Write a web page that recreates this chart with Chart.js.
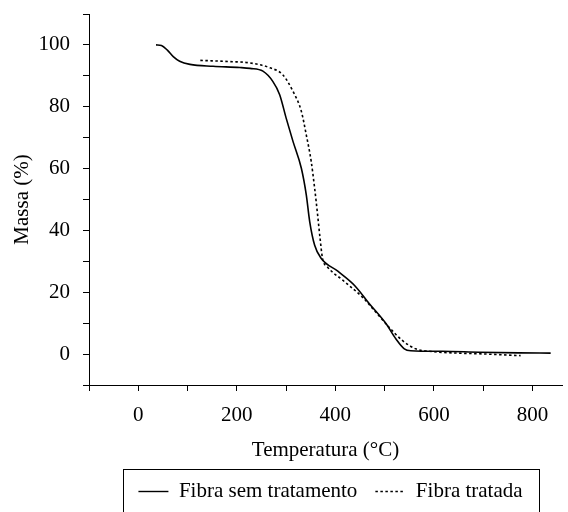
<!DOCTYPE html>
<html>
<head>
<meta charset="utf-8">
<script src="https://cdn.jsdelivr.net/npm/chart.js@4"></script>
<style>
  html, body { margin: 0; padding: 0; background: #fff; }
  #wrap { width: 568px; height: 512px; }
</style>
</head>
<body>
<div id="wrap"><canvas id="tgaChart"></canvas></div>
<script>
// curva TGA - fibra sem tratamento (temperatura °C / massa %)
const tempSemTratamento = [36, 47, 59, 71, 84, 105, 152, 206, 227, 253, 273, 287, 300, 314, 331, 341, 348, 358, 371, 405, 439, 469, 503, 523, 540, 553, 617, 692, 772, 837];
const massaSemTratamento = [100, 99.8, 98.3, 96.2, 94.7, 93.7, 93.1, 92.7, 92.4, 91.5, 88.2, 83.9, 76.4, 68.8, 60.1, 51.5, 42.8, 35.2, 31, 26.8, 22.2, 16.3, 9.8, 4.9, 1.7, 1.1, 0.9, 0.6, 0.4, 0.3];

// curva TGA - fibra tratada
const tempTratada = [126, 186, 226, 267, 293, 314, 331, 341, 351, 358, 364, 369, 374, 384, 415, 455, 476, 509, 536, 563, 597, 651, 692, 776];
const massaTratada = [95, 94.6, 94.2, 92.6, 90.4, 85, 78.5, 70.9, 62.3, 53.6, 45, 37.4, 30.9, 28.2, 23.9, 18.4, 14.7, 8.7, 4.4, 1.7, 0.8, 0.3, 0.1, -0.5];

const nomesSeries = ['Fibra sem tratamento', 'Fibra tratada'];

const toPoints = (xs, ys) => xs.map((x, i) => ({ x, y: ys[i] }));

Chart.defaults.font.family = '"Liberation Serif", "Times New Roman", serif';
Chart.defaults.font.size = 21;
Chart.defaults.color = '#000';

// desloca um pouco a legenda e desenha a moldura em volta dela
const legendFrame = {
    id: 'legendFrame',
    afterLayout(chart) {
        const lg = chart.legend;
        if (!lg) return;
        lg.left += 5;
        lg.right += 5;
    },
    afterDraw(chart) {
        const lg = chart.legend;
        if (!lg || !lg.legendHitBoxes.length) return;
        const boxes = lg.legendHitBoxes;
        const left = Math.min(...boxes.map(b => b.left)) - 15;
        const right = Math.max(...boxes.map(b => b.left + b.width)) + 17;
        const cy = lg.top + lg.options.labels.padding + boxes[0].height / 2;
        const ctx = chart.ctx;
        ctx.save();
        ctx.strokeStyle = '#000';
        ctx.lineWidth = 1;
        ctx.strokeRect(Math.round(left) + 0.5, Math.round(cy - 23) + 0.5, Math.round(right - left), chart.height);
        ctx.restore();
    }
};

new Chart(document.getElementById('tgaChart'), {
    type: 'line',
    data: {
        datasets: [{
            label: nomesSeries[0],
            data: toPoints(tempSemTratamento, massaSemTratamento),
            borderColor: '#000',
            borderWidth: 1.6,
            pointRadius: 0,
            cubicInterpolationMode: 'monotone',
            fill: false
        }, {
            label: nomesSeries[1],
            data: toPoints(tempTratada, massaTratada),
            borderColor: '#000',
            borderWidth: 1.6,
            borderDash: [2.5, 2.5],
            pointRadius: 0,
            cubicInterpolationMode: 'monotone',
            fill: false
        }]
    },
    options: {
        responsive: true,
        maintainAspectRatio: false,
        animation: false,
        layout: { padding: { top: 14, right: 6, left: 0, bottom: 0 } },
        scales: {
            x: {
                type: 'linear',
                min: -100,
                max: 860,
                afterFit: (s) => { s.height = 78; s.paddingLeft = 0; s.paddingRight = 0; },
                border: { display: true, color: '#000', width: 1 },
                grid: { drawOnChartArea: false, drawTicks: true, tickLength: 6, color: '#000' },
                ticks: {
                    stepSize: 100,
                    includeBounds: false,
                    padding: 12,
                    maxRotation: 0,
                    autoSkip: false,
                    callback: (v) => (v % 200 === 0 ? v : '')
                },
                title: { display: true, text: 'Temperatura (°C)', padding: { top: 0, bottom: 0 } }
            },
            y: {
                min: -10,
                max: 110,
                afterFit: (s) => { s.width = 89; s.paddingTop = 0; s.paddingBottom = 0; },
                border: { display: true, color: '#000', width: 1 },
                grid: { drawOnChartArea: false, drawTicks: true, tickLength: 6, color: '#000' },
                ticks: {
                    stepSize: 10,
                    padding: 13,
                    autoSkip: false,
                    callback: (v) => (v % 20 === 0 && v >= 0 && v <= 100 ? v : '')
                },
                title: { display: true, text: 'Massa (%)', padding: { top: 10, bottom: 0 } }
            }
        },
        plugins: {
            legend: {
                position: 'bottom',
                fullSize: false,
                labels: {
                    usePointStyle: true,
                    pointStyle: 'line',
                    pointStyleWidth: 30,
                    boxHeight: 21,
                    padding: 18,
                    generateLabels: (chart) => chart.data.datasets.map((ds, i) => ({
                        text: ds.label,
                        datasetIndex: i,
                        pointStyle: 'line',
                        strokeStyle: '#000',
                        fillStyle: '#000',
                        lineWidth: 1.4,
                        lineDash: ds.borderDash || [],
                        hidden: false,
                        fontColor: '#000'
                    }))
                }
            },
            tooltip: { enabled: false }
        }
    },
    plugins: [legendFrame]
});
</script>
</body>
</html>
